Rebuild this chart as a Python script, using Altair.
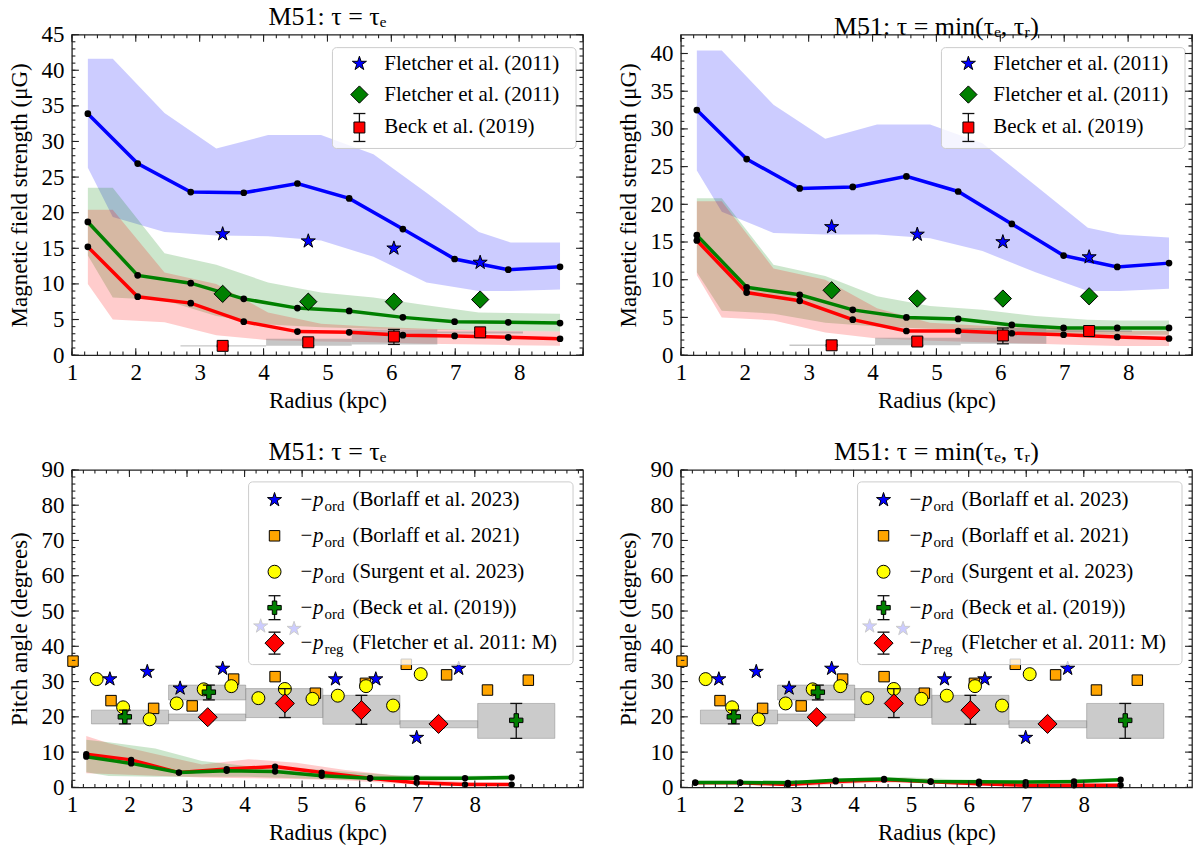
import altair as alt
import numpy as np
import pandas as pd

SERIF = "Liberation Serif, Times New Roman, Times, serif"

# ---------------- model radii ----------------
R_MODEL = [1.25, 2.03, 2.86, 3.69, 4.53, 5.34, 6.18, 6.99, 7.83, 8.64]
R_BAND = [1.25, 1.64, 2.45, 3.26, 4.07, 4.90, 5.72, 6.55, 7.37, 7.87, 8.64]

# ---------------- field strength, tau = tau_e ----------------
B_TE = [33.9, 26.9, 22.9, 22.8, 24.1, 22.0, 17.7, 13.5, 12.0, 12.4]
B_TE_LO = [26.3, 19.4, 17.3, 16.8, 16.7, 16.1, 13.8, 10.2, 9.0, 9.0, 9.2]
B_TE_HI = [41.6, 41.6, 34.0, 29.0, 30.9, 30.9, 28.2, 22.8, 17.3, 15.8, 15.8]
BG_TE = [18.7, 11.2, 10.1, 7.9, 6.6, 6.2, 5.3, 4.7, 4.6, 4.5]
BG_TE_LO = [14.0, 8.1, 7.7, 5.5, 4.3, 3.9, 3.7, 3.6, 3.5, 3.4, 3.3]
BG_TE_HI = [23.5, 23.5, 14.3, 12.7, 10.2, 8.8, 8.1, 7.0, 6.0, 5.9, 5.8]
BR_TE = [15.2, 8.2, 7.3, 4.7, 3.3, 3.2, 2.8, 2.7, 2.5, 2.3]
BR_TE_LO = [10.0, 5.0, 4.6, 2.8, 2.1, 1.9, 1.8, 1.6, 1.5, 1.4, 1.3]
BR_TE_HI = [20.4, 20.4, 11.6, 10.0, 6.0, 4.4, 4.0, 3.7, 3.5, 3.4, 3.3]

# ---------------- field strength, tau = min(tau_e, tau_r) ----------------
B_MIN = [32.5, 26.0, 22.1, 22.3, 23.7, 21.7, 17.4, 13.2, 11.7, 12.2]
B_MIN_LO = [24.5, 19.0, 16.2, 16.0, 16.0, 15.5, 13.8, 11.0, 8.5, 8.5, 8.8]
B_MIN_HI = [40.4, 40.4, 33.2, 28.7, 30.6, 30.6, 28.1, 22.5, 16.9, 16.0, 15.6]
BG_MIN = [15.9, 9.0, 8.0, 6.0, 5.0, 4.8, 4.0, 3.6, 3.6, 3.6]
BG_MIN_LO = [11.0, 5.9, 5.5, 4.3, 3.8, 3.5, 3.3, 3.0, 2.8, 2.7, 2.7]
BG_MIN_HI = [20.8, 20.8, 12.0, 10.5, 7.8, 6.5, 6.0, 5.2, 4.7, 4.6, 4.6]
BR_MIN = [15.2, 8.3, 7.2, 4.7, 3.2, 3.2, 2.9, 2.7, 2.4, 2.2]
BR_MIN_LO = [10.6, 5.0, 4.6, 3.0, 2.2, 1.9, 1.7, 1.5, 1.3, 1.2, 1.2]
BR_MIN_HI = [20.4, 20.4, 11.5, 10.0, 6.2, 4.3, 3.9, 3.6, 3.3, 3.2, 3.2]

# ---------------- pitch angles, tau = tau_e ----------------
PG_TE = [8.7, 6.8, 4.2, 4.7, 4.5, 3.3, 2.6, 2.6, 2.6, 2.8]
PG_TE_LO = [4.3, 3.2, 3.0, 3.0, 3.0, 2.6, 2.2, 2.0, 2.0, 2.0, 2.2]
PG_TE_HI = [13.5, 12.8, 11.0, 7.5, 6.0, 5.5, 4.5, 3.5, 3.3, 3.3, 3.4]
PR_TE = [9.4, 7.8, 4.2, 5.2, 5.9, 4.2, 2.6, 1.3, 0.8, 0.8]
PR_TE_LO = [4.0, 3.8, 3.3, 2.8, 2.6, 2.4, 2.0, 1.2, 0.5, 0.4, 0.4]
PR_TE_HI = [14.6, 12.5, 9.5, 6.5, 8.0, 7.0, 5.0, 3.5, 2.0, 1.5, 1.3]

# ---------------- pitch angles, tau = min(tau_e, tau_r) ----------------
PG_MIN = [1.4, 1.4, 1.3, 2.0, 2.4, 1.7, 1.6, 1.5, 1.7, 2.2]
PG_MIN_LO = [1.0, 1.0, 1.0, 1.0, 1.5, 1.5, 1.2, 1.1, 1.1, 1.2, 1.6]
PG_MIN_HI = [1.9, 1.9, 1.9, 2.0, 2.7, 2.9, 2.3, 2.0, 2.0, 2.3, 2.7]
PR_MIN = [1.3, 1.3, 0.8, 1.7, 2.2, 1.6, 1.0, 0.6, 0.6, 0.6]
PR_MIN_LO = [1.0, 1.0, 0.8, 0.5, 1.2, 1.4, 0.8, 0.4, 0.3, 0.3, 0.3]
PR_MIN_HI = [1.6, 1.6, 1.4, 1.3, 2.2, 2.6, 1.9, 1.3, 1.0, 0.9, 0.9]

# ---------------- observations: field strength ----------------
OBS_R = [3.36, 4.70, 6.04, 7.39]
FLETCHER_B = [17.0, 16.0, 15.0, 13.0]
FLETCHER_BREG = [8.6, 7.5, 7.5, 7.8]
BECK_B = [1.3, 1.8, 2.6, 3.2]
BECK_BIN_LO = [2.70, 4.04, 5.38, 6.72]
BECK_BIN_HI = [4.04, 5.38, 6.72, 8.06]
BECK_B_LO = [1.2, 1.3, 1.5, 3.05]
BECK_B_HI = [1.4, 2.3, 3.6, 3.3]

# ---------------- observations: pitch angles ----------------
BORLAFF23_R = [1.66, 2.31, 2.88, 3.62, 4.28, 4.86, 5.58, 6.28, 6.99, 7.72]
BORLAFF23_P = [30.7, 32.8, 28.1, 33.7, 45.7, 45.0, 30.7, 30.7, 14.1, 33.7]
BORLAFF21_R = [1.02, 1.68, 2.42, 3.09, 3.81, 4.53, 5.23, 6.10, 6.81, 7.51, 8.22, 8.93]
BORLAFF21_P = [35.8, 24.6, 22.4, 23.1, 30.7, 31.4, 26.7, 29.5, 34.9, 31.9, 27.6, 30.4]
SURGENT_R = [1.43, 1.89, 2.35, 2.82, 3.29, 3.77, 4.24, 4.70, 5.18, 5.62, 6.11, 6.58, 7.06]
SURGENT_P = [30.7, 22.7, 19.3, 23.8, 27.8, 28.7, 25.3, 27.9, 25.1, 26.0, 28.7, 23.2, 32.1]
BECK_P_R = [1.92, 3.38, 8.72]
BECK_P = [20.0, 27.0, 19.0]
BECK_P_BIN_LO = [1.34, 2.68, 8.05]
BECK_P_BIN_HI = [2.68, 4.02, 9.39]
BECK_P_LO = [18.0, 24.8, 13.9]
BECK_P_HI = [21.9, 29.0, 23.8]
FLETCHER_P_R = [3.36, 4.70, 6.03, 7.37]
FLETCHER_P = [19.9, 23.8, 21.9, 18.0]
FLETCHER_P_BIN_LO = [2.68, 4.02, 5.36, 6.70]
FLETCHER_P_BIN_HI = [4.02, 5.36, 6.70, 8.05]
FLETCHER_P_LO = [18.9, 19.8, 17.9, 16.9]
FLETCHER_P_HI = [20.8, 28.0, 26.1, 18.9]

# ---------------- axes ----------------
X_LABELS = [1, 2, 3, 4, 5, 6, 7, 8]
Y_LABELS_TE = [0, 5, 10, 15, 20, 25, 30, 35, 40, 45]
Y_LABELS_MIN = [0, 5, 10, 15, 20, 25, 30, 35, 40]
Y_LABELS_P = [0, 10, 20, 30, 40, 50, 60, 70, 80, 90]

TITLE_TE = "M51: τ = τₑ"
TITLE_MIN = "M51: τ = min(τₑ, τᵣ)"

W = 512
H_TOP = 321
H_BOT = 318

STAR = ("M0,-1L0.2245,-0.309L0.9511,-0.309L0.3633,0.118L0.5878,0.809L0,0.382"
        "L-0.5878,0.809L-0.3633,0.118L-0.9511,-0.309L-0.2245,-0.309Z")
PLUS = ("M-0.333,-1L0.333,-1L0.333,-0.333L1,-0.333L1,0.333L0.333,0.333L0.333,1"
        "L-0.333,1L-0.333,0.333L-1,0.333L-1,-0.333L-0.333,-0.333Z")

ONE = pd.DataFrame({"k": [0]})


def X(field, xs):
    return alt.X(field, type="quantitative", scale=xs[0], axis=xs[1])


def Y(field, ys):
    return alt.Y(field, type="quantitative", scale=ys[0], axis=ys[1])


def x_axis():
    return alt.Axis(values=X_LABELS, title="Radius (kpc)", format="d", ticks=False,
                    domain=False, grid=False, labelFont=SERIF, labelFontSize=23,
                    labelColor="black", labelPadding=6, labelFlush=False,
                    titleFont=SERIF, titleFontSize=23, titleFontWeight="normal",
                    titleColor="black", titlePadding=5)


def y_axis(values, title):
    return alt.Axis(values=values, title=title, format="d", ticks=False, domain=False,
                    grid=False, labelFont=SERIF, labelFontSize=23, labelColor="black",
                    labelPadding=8, titleFont=SERIF, titleFontSize=23,
                    titleFontWeight="normal", titleColor="black", titlePadding=9)


def frame_ticks(xs, ys, H, xmaj, xmin, ymaj, ymin):
    out = []
    for vals, ln in ((xmaj, 7), (xmin, 3.5)):
        d = pd.DataFrame({"t": vals})
        for y0, y1 in ((H, H - ln), (0, ln)):
            out.append(alt.Chart(d).mark_rule(color="#222", strokeWidth=1.1).encode(
                x=X("t", xs), y=alt.value(y0), y2=alt.value(y1)))
    for vals, ln in ((ymaj, 7), (ymin, 3.5)):
        d = pd.DataFrame({"t": vals})
        for x0, x1 in ((0, ln), (W, W - ln)):
            out.append(alt.Chart(d).mark_rule(color="#222", strokeWidth=1.1).encode(
                y=Y("t", ys), x=alt.value(x0), x2=alt.value(x1)))
    return out


def band(r, lo, hi, color, xs, ys):
    d = pd.DataFrame({"r": r, "lo": lo, "hi": hi})
    return alt.Chart(d).mark_area(color=color, opacity=0.2).encode(
        x=X("r", xs), y=Y("lo", ys), y2="hi")


def line(r, v, color, xs, ys, width=3.5):
    d = pd.DataFrame({"r": r, "v": v})
    return alt.Chart(d).mark_line(color=color, strokeWidth=width).encode(
        x=X("r", xs), y=Y("v", ys))


def dots(r, v, xs, ys, size=45):
    d = pd.DataFrame({"r": r, "v": v})
    return alt.Chart(d).mark_circle(color="black", size=size, opacity=1).encode(
        x=X("r", xs), y=Y("v", ys))


def pts(r, v, shape, fill, size, xs, ys):
    d = pd.DataFrame({"r": r, "v": v})
    return alt.Chart(d).mark_point(shape=shape, filled=True, fill=fill, stroke="black",
                                   strokeWidth=1, size=size, opacity=1).encode(
        x=X("r", xs), y=Y("v", ys))


def errbars(r, lo, hi, xs, ys, cap=12, color="#111"):
    d = pd.DataFrame({"r": r, "lo": lo, "hi": hi})
    rule = alt.Chart(d).mark_rule(color=color, strokeWidth=1.3).encode(
        x=X("r", xs), y=Y("lo", ys), y2="hi")
    c1 = alt.Chart(d).mark_tick(color=color, orient="horizontal", size=cap,
                                thickness=1.3, opacity=1).encode(x=X("r", xs), y=Y("lo", ys))
    c2 = alt.Chart(d).mark_tick(color=color, orient="horizontal", size=cap,
                                thickness=1.3, opacity=1).encode(x=X("r", xs), y=Y("hi", ys))
    return [rule, c1, c2]


def boxes(r0, r1, lo, hi, xs, ys, fill, op, stroke_op=0.0):
    d = pd.DataFrame({"r0": r0, "r1": r1, "lo": lo, "hi": hi})
    return alt.Chart(d).mark_rect(fill=fill, fillOpacity=op, stroke="#888",
                                  strokeOpacity=stroke_op, strokeWidth=1).encode(
        x=X("r0", xs), x2="r1", y=Y("lo", ys), y2="hi")


# ---------- legend helpers (pixel positions inside a panel) ----------
def vbox(x0, y0, x1, y1):
    return alt.Chart(ONE).mark_rect(fill="white", fillOpacity=0.8, stroke="#cccccc",
                                    strokeWidth=1, cornerRadius=4).encode(
        x=alt.value(x0), x2=alt.value(x1), y=alt.value(y0), y2=alt.value(y1))


def vsym(shape, fill, size, x, y):
    return alt.Chart(ONE).mark_point(shape=shape, filled=True, fill=fill, stroke="black",
                                     strokeWidth=1, size=size, opacity=1).encode(
        x=alt.value(x), y=alt.value(y))


def vbar(x, y, half, cap=12):
    c = "#111"
    out = [alt.Chart(ONE).mark_rule(color=c, strokeWidth=1.3).encode(
        x=alt.value(x), y=alt.value(y - half), y2=alt.value(y + half))]
    for yy in (y - half, y + half):
        out.append(alt.Chart(ONE).mark_rule(color=c, strokeWidth=1.3).encode(
            x=alt.value(x - cap / 2), x2=alt.value(x + cap / 2), y=alt.value(yy)))
    return out


def vtext(txt, x, y, size=21, style="normal"):
    return alt.Chart(ONE).mark_text(text=txt, font=SERIF, fontSize=size, fontStyle=style,
                                    align="left", baseline="middle", color="black").encode(
        x=alt.value(x), y=alt.value(y))


def top_legend():
    rows = [29, 60, 93]
    sx, tx = 288, 313
    L = [vbox(261, 13, 505, 114)]
    L.append(vsym(STAR, "#0000ff", 220, sx, rows[0]))
    L.append(vsym("diamond", "#008000", 300, sx, rows[1]))
    L += vbar(sx, rows[2], 14)
    L.append(vsym("square", "#ff0000", 120, sx, rows[2]))
    L.append(vtext("Fletcher et al. (2011)", tx, rows[0]))
    L.append(vtext("Fletcher et al. (2011)", tx, rows[1]))
    L.append(vtext("Beck et al. (2019)", tx, rows[2]))
    return L


def bottom_legend():
    rows = [30, 66, 102, 138, 173.5]
    sx = 203
    L = [vbox(177, 12, 502, 195)]
    L.append(vsym(STAR, "#0000ff", 220, sx, rows[0]))
    L.append(vsym("square", "#ffa500", 110, sx, rows[1]))
    L.append(vsym("circle", "#ffff00", 169, sx, rows[2]))
    L += vbar(sx, rows[3], 12)
    L.append(vsym(PLUS, "#008000", 180, sx, rows[3]))
    L += vbar(sx, rows[4], 11)
    L.append(vsym("diamond", "#ff0000", 365, sx, rows[4]))
    labels = [("ord", "(Borlaff et al. 2023)"), ("ord", "(Borlaff et al. 2021)"),
              ("ord", "(Surgent et al. 2023)"), ("ord", "(Beck et al. (2019))"),
              ("reg", "(Fletcher et al. 2011: M)")]
    for yy, (sub, rest) in zip(rows, labels):
        L.append(vtext("−", 229, yy))
        L.append(vtext("p", 241.5, yy, style="italic"))
        L.append(vtext(sub, 253, yy + 6, size=15))
        L.append(vtext(rest, 281, yy))
    return L


def title_params(text):
    return alt.TitleParams(text, font=SERIF, fontSize=26, fontWeight="normal",
                           color="black", offset=-6, frame="group", anchor="middle")


def field_panel(ydom, ylabels, title, tot, tot_lo, tot_hi, g, g_lo, g_hi, r, r_lo, r_hi):
    xs = (alt.Scale(domain=[1, 9], nice=False, zero=False), x_axis())
    ys = (alt.Scale(domain=ydom, nice=False, zero=False),
          y_axis(ylabels, "Magnetic field strength (μG)"))
    layers = [band(R_BAND, tot_lo, tot_hi, "#0000ff", xs, ys),
              band(R_BAND, g_lo, g_hi, "#008000", xs, ys),
              band(R_BAND, r_lo, r_hi, "#ff0000", xs, ys),
              boxes(BECK_BIN_LO, BECK_BIN_HI, BECK_B_LO, BECK_B_HI, xs, ys, "#808080", 0.45),
              line(R_MODEL, tot, "#0000ff", xs, ys),
              line(R_MODEL, g, "#008000", xs, ys),
              line(R_MODEL, r, "#ff0000", xs, ys),
              dots(R_MODEL, tot, xs, ys), dots(R_MODEL, g, xs, ys), dots(R_MODEL, r, xs, ys),
              pts(OBS_R, FLETCHER_B, STAR, "#0000ff", 220, xs, ys),
              pts(OBS_R, FLETCHER_BREG, "diamond", "#008000", 300, xs, ys)]
    layers += errbars(OBS_R, BECK_B_LO, BECK_B_HI, xs, ys)
    layers.append(pts(OBS_R, BECK_B, "square", "#ff0000", 120, xs, ys))
    layers += top_legend()
    ymax = ydom[1]
    layers += frame_ticks(xs, ys, H_TOP, list(range(1, 10)),
                          [round(v, 1) for v in np.arange(1, 9.01, 0.2)],
                          [v for v in range(0, 50, 5) if v <= ymax],
                          [v for v in range(0, 50) if v <= ymax])
    return alt.layer(*layers).properties(width=W, height=H_TOP, title=title_params(title))


def pitch_panel(title, g, g_lo, g_hi, r, r_lo, r_hi):
    xs = (alt.Scale(domain=[1, 9.88], nice=False, zero=False), x_axis())
    ys = (alt.Scale(domain=[0, 90], nice=False, zero=False),
          y_axis(Y_LABELS_P, "Pitch angle (degrees)"))
    layers = [boxes(BECK_P_BIN_LO, BECK_P_BIN_HI, BECK_P_LO, BECK_P_HI, xs, ys, "#a0a0a0", 0.55, 0.5),
              boxes(FLETCHER_P_BIN_LO, FLETCHER_P_BIN_HI, FLETCHER_P_LO, FLETCHER_P_HI, xs, ys,
                    "#a0a0a0", 0.55, 0.5),
              band(R_BAND, r_lo, r_hi, "#ff0000", xs, ys),
              band(R_BAND, g_lo, g_hi, "#008000", xs, ys),
              line(R_MODEL, r, "#ff0000", xs, ys),
              line(R_MODEL, g, "#008000", xs, ys),
              dots(R_MODEL, r, xs, ys, 40), dots(R_MODEL, g, xs, ys, 40),
              pts(BORLAFF23_R, BORLAFF23_P, STAR, "#0000ff", 220, xs, ys),
              pts(BORLAFF21_R, BORLAFF21_P, "square", "#ffa500", 110, xs, ys),
              pts(SURGENT_R, SURGENT_P, "circle", "#ffff00", 169, xs, ys)]
    layers += errbars(BECK_P_R, BECK_P_LO, BECK_P_HI, xs, ys)
    layers.append(pts(BECK_P_R, BECK_P, PLUS, "#008000", 180, xs, ys))
    layers += errbars(FLETCHER_P_R, FLETCHER_P_LO, FLETCHER_P_HI, xs, ys)
    layers.append(pts(FLETCHER_P_R, FLETCHER_P, "diamond", "#ff0000", 365, xs, ys))
    layers += bottom_legend()
    layers += frame_ticks(xs, ys, H_BOT, list(range(1, 9)),
                          [round(v, 1) for v in np.arange(1, 9.81, 0.2)],
                          list(range(0, 91, 10)), list(range(0, 91, 2)))
    return alt.layer(*layers).properties(width=W, height=H_BOT, title=title_params(title))


tl = field_panel([0, 45], Y_LABELS_TE, TITLE_TE, B_TE, B_TE_LO, B_TE_HI,
                 BG_TE, BG_TE_LO, BG_TE_HI, BR_TE, BR_TE_LO, BR_TE_HI)
tr = field_panel([0, 42.5], Y_LABELS_MIN, TITLE_MIN, B_MIN, B_MIN_LO, B_MIN_HI,
                 BG_MIN, BG_MIN_LO, BG_MIN_HI, BR_MIN, BR_MIN_LO, BR_MIN_HI)
bl = pitch_panel(TITLE_TE, PG_TE, PG_TE_LO, PG_TE_HI, PR_TE, PR_TE_LO, PR_TE_HI)
br = pitch_panel(TITLE_MIN, PG_MIN, PG_MIN_LO, PG_MIN_HI, PR_MIN, PR_MIN_LO, PR_MIN_HI)

chart = alt.concat(tl, tr, bl, br, columns=2, spacing={"row": 115, "column": 98},
                   bounds="flush").properties(
    padding={"left": 8, "top": 2, "right": 3, "bottom": 0})
chart = chart.configure_view(stroke="#222", strokeWidth=1.3)
chart.save("out.html", embed_options={"renderer": "svg", "actions": False})
